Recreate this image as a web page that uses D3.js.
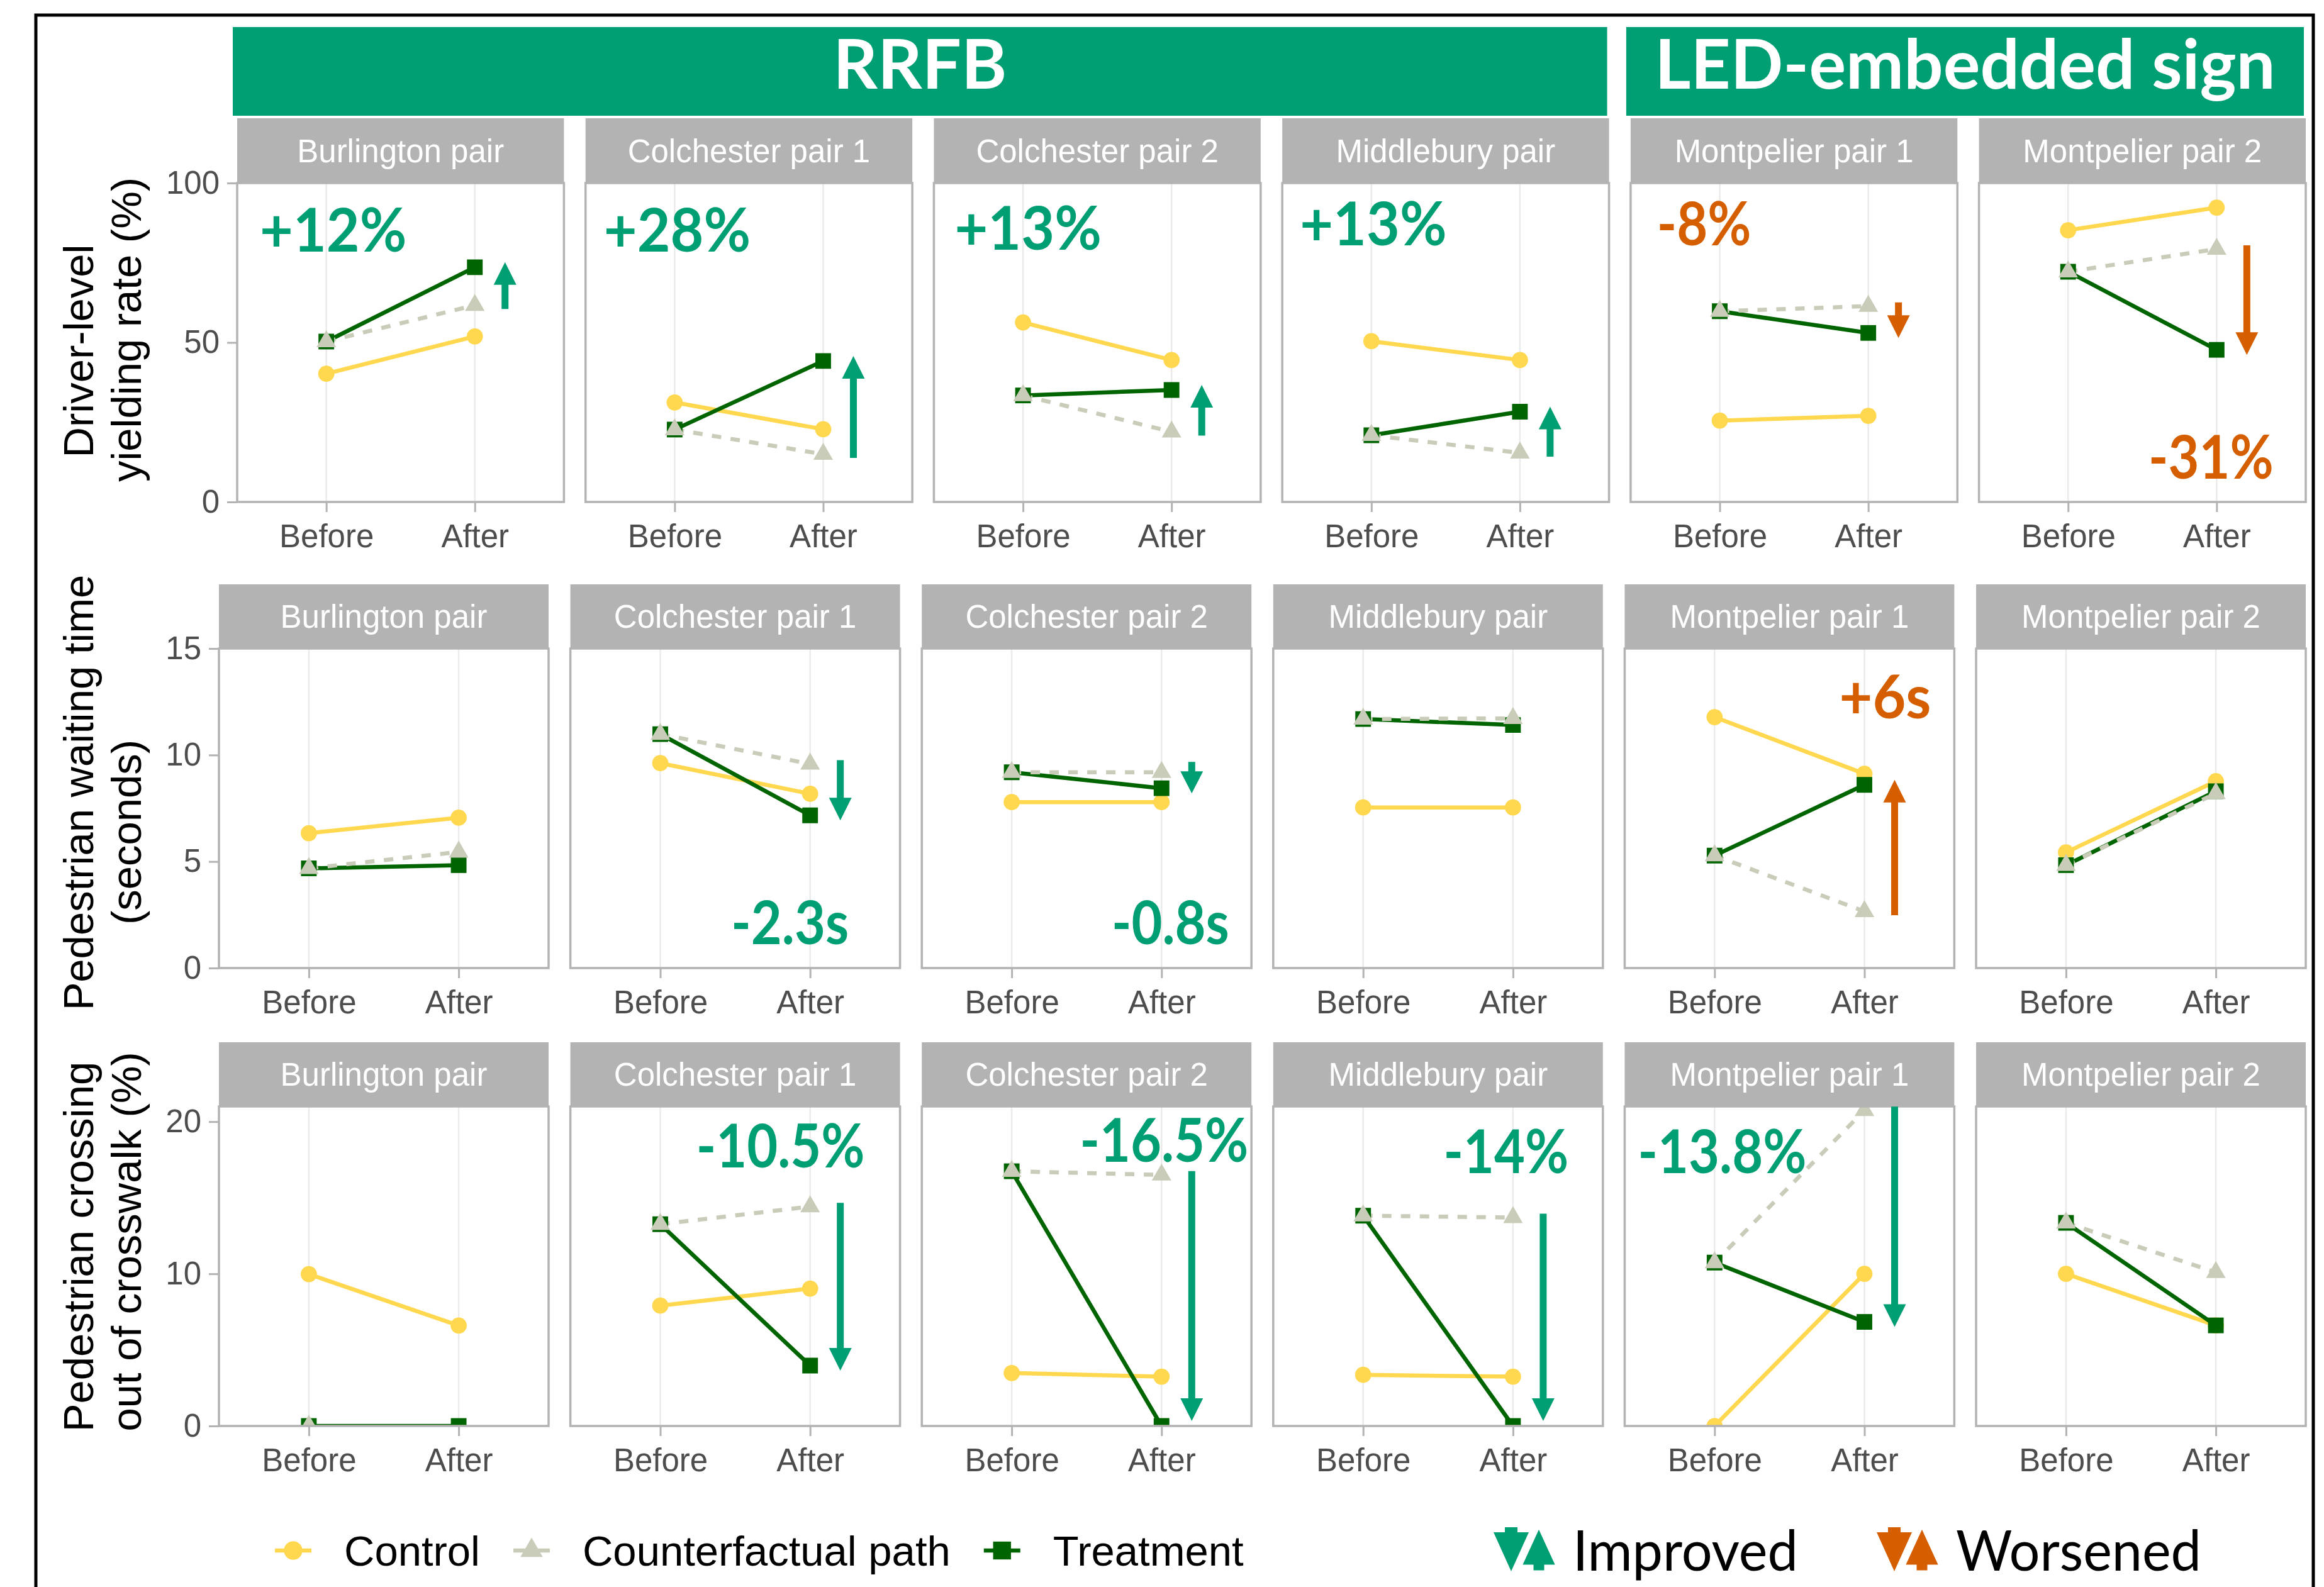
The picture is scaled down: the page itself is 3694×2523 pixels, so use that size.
<!DOCTYPE html>
<html>
<head>
<meta charset="utf-8">
<script src="https://cdn.jsdelivr.net/npm/d3@7"></script>
<style>
  html, body { margin: 0; padding: 0; background: #fff; }
  svg { display: block; }
</style>
</head>
<body>
<svg id="chart" width="3694" height="2523"></svg>
<script>
// Categories
var sites = ["Burlington pair", "Colchester pair 1", "Colchester pair 2",
  "Middlebury pair", "Montpelier pair 1", "Montpelier pair 2"];
var periods = ["Before", "After"];
var groups = ["Control", "Counterfactual path", "Treatment"];
var headers = ["RRFB", "LED-embedded sign"];
var headerSites = [[0, 3], [4, 5]];

// Driver-level yielding rate (%), [Before, After] for each site
var yieldControl = [[40.2, 51.9], [31.2, 22.8], [56.3, 44.5], [50.4, 44.5], [25.5, 27.0], [85.2, 92.3]];
var yieldCounterfactual = [[50.3, 61.7], [22.7, 15.0], [33.4, 22.0], [20.9, 15.4], [59.8, 61.4], [72.2, 79.3]];
var yieldTreatment = [[50.3, 73.6], [22.7, 44.2], [33.4, 35.1], [20.9, 28.3], [59.8, 53.0], [72.2, 47.7]];

// Pedestrian waiting time (seconds)
var waitControl = [[6.33, 7.06], [9.62, 8.18], [7.79, 7.79], [7.54, 7.54], [11.78, 9.12], [5.43, 8.77]];
var waitCounterfactual = [[4.68, 5.45], [10.98, 9.58], [9.19, 9.19], [11.69, 11.72], [5.28, 2.66], [4.83, 8.2]];
var waitTreatment = [[4.68, 4.83], [10.98, 7.17], [9.19, 8.44], [11.69, 11.41], [5.28, 8.6], [4.83, 8.3]];

// Pedestrian crossing out of crosswalk (%)
var crossControl = [[9.98, 6.6], [7.91, 9.03], [3.48, 3.24], [3.36, 3.24], [0, 10.0], [10.0, 6.61]];
var crossCounterfactual = [[0, null], [13.26, 14.42], [16.74, 16.5], [13.82, 13.7], [10.74, 20.74], [13.35, 10.1]];
var crossTreatment = [[0, 0], [13.26, 3.97], [16.74, 0], [13.82, 0], [10.74, 6.84], [13.35, 6.61]];

// Tick labels
var yieldTicks = [0, 50, 100];
var waitTicks = [0, 5, 10, 15];
var crossTicks = [0, 10, 20];

// Change labels (treatment vs counterfactual after)
var yieldLabels = ["+12%", "+28%", "+13%", "+13%", "-8%", "-31%"];
var waitLabels = [null, "-2.3s", "-0.8s", null, "+6s", null];
var crossLabels = [null, "-10.5%", "-16.5%", "-14%", "-13.8%", null];

// Where the change labels sit: dx from the "After" tick (px), y in data units
var yieldLabelPos = [{dx: -225, y: 85.4}, {dx: -232, y: 85.4}, {dx: -228, y: 86}, {dx: -233, y: 87.2}, {dx: -261, y: 87.2}, {dx: -9, y: 14.2}];
var waitLabelPos = [null, {dx: -32, y: 2.13}, {dx: 14, y: 2.13}, null, {dx: 33, y: 12.73}, null];
var crossLabelPos = [null, {dx: -47, y: 18.4}, {dx: 4, y: 18.8}, {dx: -11, y: 18.06}, {dx: -226, y: 18.06}, null];

var ggFont = "'Liberation Sans', Arial, sans-serif";
var calFont = "Lato, 'Open Sans', sans-serif";
var improvedColour = "#009E73";
var worsenedColour = "#D55E00";
var greyStrip = "#B3B3B3";

var colour = d3.scaleOrdinal().domain(groups).range(["#FFD84F", "#C9CCB8", "#006400"]);
var shape = d3.scaleOrdinal().domain(groups).range([d3.symbolCircle, d3.symbolTriangle, d3.symbolSquare]);
var shapeSize = d3.scaleOrdinal().domain(groups).range([520, 420, 620]);
var dash = d3.scaleOrdinal().domain(groups).range([null, "15,15", null]);
var drawOrder = ["Control", "Treatment", "Counterfactual path"];

var rows = [
  {title: ["Driver-level", "yielding rate (%)"], titleY: [558, 524], ymax: 100, ticks: yieldTicks,
   series: {"Control": yieldControl, "Counterfactual path": yieldCounterfactual, "Treatment": yieldTreatment},
   labels: yieldLabels, labelPos: yieldLabelPos, higherIsBetter: true,
   left: 377, stripTop: 188, top: 291, bottom: 798},
  {title: ["Pedestrian waiting time", "(seconds)"], titleY: [1260, 1323], ymax: 15, ticks: waitTicks,
   series: {"Control": waitControl, "Counterfactual path": waitCounterfactual, "Treatment": waitTreatment},
   labels: waitLabels, labelPos: waitLabelPos, higherIsBetter: false,
   left: 348, stripTop: 929, top: 1031, bottom: 1539},
  {title: ["Pedestrian crossing", "out of crosswalk (%)"], titleY: [1982, 1974], ymax: 21, ticks: crossTicks,
   series: {"Control": crossControl, "Counterfactual path": crossCounterfactual, "Treatment": crossTreatment},
   labels: crossLabels, labelPos: crossLabelPos, higherIsBetter: false,
   left: 348, stripTop: 1657, top: 1759, bottom: 2267}
];
var panelRight = 3665;
var titleX = [124, 200];

var svg = d3.select("#chart");
svg.append("rect").attr("width", 3694).attr("height", 2523).attr("fill", "#fff");

function styleAxis(sel) {
  sel.select(".domain").remove();
  sel.selectAll(".tick line").attr("stroke", greyStrip).attr("stroke-width", 3);
  sel.selectAll(".tick text")
    .attr("fill", "#4D4D4D")
    .style("font-family", ggFont)
    .style("font-size", "51px");
}

// Arrow polygon from tail to tip (vertical)
function arrowPath(x0, yTail, yTip) {
  var dir = yTip > yTail ? 1 : -1;
  var len = Math.abs(yTip - yTail);
  var head = Math.min(36, len * 0.7);
  var hw = 18, sw = 5.5;
  var yNeck = yTip - dir * head;
  return "M" + (x0 - sw) + "," + yTail +
    "L" + (x0 - sw) + "," + yNeck +
    "L" + (x0 - hw) + "," + yNeck +
    "L" + x0 + "," + yTip +
    "L" + (x0 + hw) + "," + yNeck +
    "L" + (x0 + sw) + "," + yNeck +
    "L" + (x0 + sw) + "," + yTail + "Z";
}

var headerBand = null;

rows.forEach(function(row, ri) {
  var band = d3.scaleBand().domain(sites).range([row.left, panelRight]).paddingInner(0.062);
  var bw = band.bandwidth();
  var x = d3.scalePoint().domain(periods).range([0, bw]).padding(0.6);
  var y = d3.scaleLinear().domain([0, row.ymax]).range([row.bottom, row.top]);
  if (ri === 0) headerBand = band;

  var g = svg.append("g").attr("class", "row");

  // Y title
  row.title.forEach(function(t, i) {
    g.append("text")
      .attr("transform", "translate(" + titleX[i] + "," + row.titleY[i] + ") rotate(-90)")
      .attr("dy", "0.36em")
      .attr("text-anchor", "middle")
      .attr("fill", "#000")
      .style("font-family", ggFont)
      .style("font-size", "67px")
      .text(t);
  });

  // Y axis on the first panel only
  g.append("g")
    .attr("transform", "translate(" + row.left + ",0)")
    .call(d3.axisLeft(y).tickValues(row.ticks).tickSize(16).tickPadding(12))
    .call(styleAxis);

  sites.forEach(function(site, si) {
    var pg = g.append("g").attr("transform", "translate(" + band(site) + ",0)");

    // Strip
    pg.append("rect")
      .attr("x", 0).attr("y", row.stripTop)
      .attr("width", bw).attr("height", row.top - row.stripTop)
      .attr("fill", greyStrip);
    pg.append("text")
      .attr("x", bw / 2).attr("y", (row.stripTop + row.top) / 2)
      .attr("dy", "0.36em")
      .attr("text-anchor", "middle")
      .attr("fill", "#fff")
      .style("font-family", ggFont)
      .style("font-size", "51px")
      .text(site);

    // Panel background and vertical grid
    pg.append("rect")
      .attr("x", 0).attr("y", row.top)
      .attr("width", bw).attr("height", row.bottom - row.top)
      .attr("fill", "#fff");
    pg.selectAll(".grid")
      .data(periods)
      .enter().append("line")
      .attr("class", "grid")
      .attr("x1", function(d) { return x(d); })
      .attr("x2", function(d) { return x(d); })
      .attr("y1", row.top).attr("y2", row.bottom)
      .attr("stroke", "#EBEBEB").attr("stroke-width", 2.5);

    // Clip
    var clipId = "clip-" + ri + "-" + si;
    pg.append("clipPath").attr("id", clipId)
      .append("rect")
      .attr("x", 0).attr("y", row.top)
      .attr("width", bw).attr("height", row.bottom - row.top);
    var dg = pg.append("g").attr("clip-path", "url(#" + clipId + ")");

    var line = d3.line()
      .defined(function(d) { return d.value != null; })
      .x(function(d) { return x(d.period); })
      .y(function(d) { return y(d.value); });

    function seriesPoints(grp) {
      var vals = row.series[grp][si];
      return periods.map(function(p, k) { return {period: p, value: vals[k], group: grp}; });
    }

    drawOrder.forEach(function(grp) {
      dg.append("path")
        .datum(seriesPoints(grp))
        .attr("d", line)
        .attr("fill", "none")
        .attr("stroke", colour(grp))
        .attr("stroke-width", 6.5)
        .attr("stroke-dasharray", dash(grp));
    });
    drawOrder.forEach(function(grp) {
      dg.selectAll(".pt-" + groups.indexOf(grp))
        .data(seriesPoints(grp).filter(function(d) { return d.value != null; }))
        .enter().append("path")
        .attr("class", "pt-" + groups.indexOf(grp))
        .attr("transform", function(d) { return "translate(" + x(d.period) + "," + y(d.value) + ")"; })
        .attr("d", d3.symbol().type(shape(grp)).size(shapeSize(grp)))
        .attr("fill", colour(grp));
    });

    // Panel border
    pg.append("rect")
      .attr("x", 0).attr("y", row.top)
      .attr("width", bw).attr("height", row.bottom - row.top)
      .attr("fill", "none")
      .attr("stroke", greyStrip)
      .attr("stroke-width", 3.5);

    // X axis
    pg.append("g")
      .attr("transform", "translate(0," + row.bottom + ")")
      .call(d3.axisBottom(x).tickSize(16).tickPadding(20))
      .call(styleAxis);

    // Change arrow and label
    var lab = row.labels[si];
    if (lab) {
      var cfAfter = row.series["Counterfactual path"][si][1];
      var trAfter = row.series["Treatment"][si][1];
      var diff = trAfter - cfAfter;
      var good = row.higherIsBetter ? diff > 0 : diff < 0;
      var col = good ? improvedColour : worsenedColour;
      var yTail = y(cfAfter), yTip = y(trAfter);
      var dir = yTip > yTail ? 1 : -1;
      yTail -= dir * 6;
      yTip += dir * 8;
      if (Math.abs(yTip - yTail) < 50) yTail = yTip - dir * 50;
      yTip = Math.max(row.top, Math.min(row.bottom - 8, yTip));
      pg.append("path")
        .attr("d", arrowPath(x("After") + 48, yTail, yTip))
        .attr("fill", col);

      var pos = row.labelPos[si];
      var sx = lab.charAt(0) === "+" ? 0.95 : 0.88;
      pg.append("text")
        .attr("transform", "translate(" + (x("After") + pos.dx) + "," + y(pos.y) + ") scale(" + sx + ",1)")
        .attr("dy", "0.36em")
        .attr("text-anchor", "middle")
        .attr("fill", col)
        .style("font-family", calFont)
        .style("font-weight", "bold")
        .style("font-size", "96px")
        .text(lab);
    }
  });
});

// Treatment headers above the first row
var hb = headerBand;
headers.forEach(function(h, i) {
  var x0 = hb(sites[headerSites[i][0]]) - 7;
  var x1 = hb(sites[headerSites[i][1]]) + hb.bandwidth() - 3;
  svg.append("rect")
    .attr("x", x0).attr("y", 43)
    .attr("width", x1 - x0).attr("height", 141)
    .attr("fill", improvedColour);
  svg.append("text")
    .attr("x", (x0 + x1) / 2).attr("y", 141)
    .attr("text-anchor", "middle")
    .attr("fill", "#fff")
    .style("font-family", calFont)
    .style("font-weight", "bold")
    .style("font-size", "110px")
    .text(h);
});

// Legend
var legendY = 2465;
var legend = svg.append("g").attr("transform", "translate(0," + legendY + ")");
var lx = 437;
groups.forEach(function(grp) {
  var item = legend.append("g").attr("transform", "translate(" + lx + ",0)");
  item.append("line")
    .attr("x1", 0).attr("x2", 58)
    .attr("stroke", colour(grp)).attr("stroke-width", 6.5);
  item.append("path")
    .attr("transform", "translate(29,0)")
    .attr("d", d3.symbol().type(shape(grp)).size(shapeSize(grp) * 1.3))
    .attr("fill", colour(grp));
  var t = item.append("text")
    .attr("x", 110).attr("dy", "0.36em")
    .attr("fill", "#000")
    .style("font-family", ggFont)
    .style("font-size", "67px")
    .text(grp);
  lx += 110 + t.node().getComputedTextLength() + 53;
});

function changeIcon(x0, col) {
  var ig = legend.append("g").attr("transform", "translate(" + x0 + ",0)");
  // down arrow
  ig.append("path")
    .attr("d", "M18,-37L38,-37L38,-29L56,-29L28,33L0,-29L18,-29Z")
    .attr("fill", col);
  // up arrow
  ig.append("path")
    .attr("d", "M72,-37L100,24L82,24L82,33L62,33L62,24L44,24Z")
    .attr("fill", col)
    .attr("stroke", "#fff").attr("stroke-width", 3);
}
var legendKeys = [{label: "Improved", colour: improvedColour, x: 2374}, {label: "Worsened", colour: worsenedColour, x: 2983}];
legendKeys.forEach(function(k) {
  changeIcon(k.x, k.colour);
  legend.append("text")
    .attr("transform", "translate(" + (k.x + 126) + ",0) scale(0.96,1)")
    .attr("dy", "0.36em")
    .attr("fill", "#000")
    .style("font-family", calFont)
    .style("font-size", "90px")
    .text(k.label);
});

// Outer frame
svg.append("rect")
  .attr("x", 57).attr("y", 24)
  .attr("width", 3620).attr("height", 2600)
  .attr("fill", "none")
  .attr("stroke", "#000")
  .attr("stroke-width", 5);
</script>
</body>
</html>
